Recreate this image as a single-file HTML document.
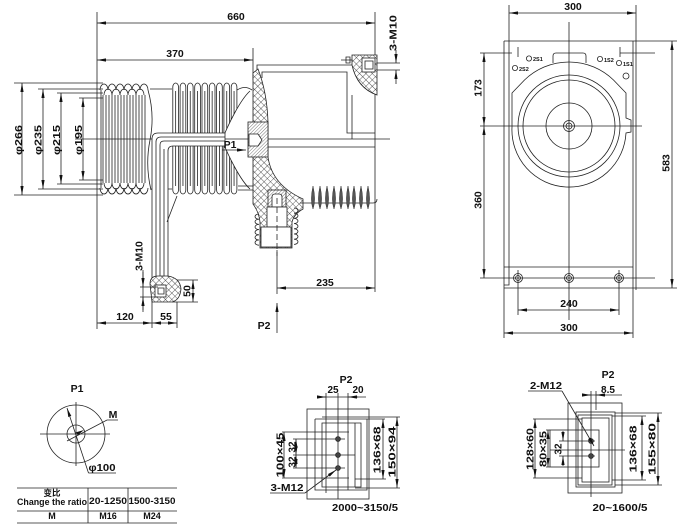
<!DOCTYPE html>
<html><head><meta charset="utf-8"><style>
html,body{margin:0;padding:0;background:#fff}
svg{display:block}
text{font-family:"Liberation Sans","Noto Sans CJK SC",sans-serif;font-weight:bold;fill:#111;stroke:none}
</style></head><body>
<svg width="688" height="531" viewBox="0 0 688 531" xmlns="http://www.w3.org/2000/svg" xmlns:xlink="http://www.w3.org/1999/xlink">
<defs>
<marker id="m" markerUnits="userSpaceOnUse" markerWidth="9" markerHeight="4" refX="9" refY="2" orient="auto-start-reverse" viewBox="0 0 9 4"><path d="M0 0.4L9 2L0 3.6Z" fill="#111" stroke="none"/></marker>
<pattern id="xh" width="4.5" height="4.5" patternUnits="userSpaceOnUse" patternTransform="rotate(45)"><rect width="4.5" height="4.5" fill="#fff"/><path d="M0 0V4.5M0 0H4.5" stroke="#222" stroke-width="0.7"/></pattern>
<pattern id="dh" width="2.4" height="2.4" patternUnits="userSpaceOnUse" patternTransform="rotate(45)"><rect width="2.4" height="2.4" fill="#fff"/><path d="M0 0V2.4" stroke="#222" stroke-width="0.6"/></pattern>
<path id="fin" d="M0.8 190V87a2.85 4 0 0 1 5.7 0V190a2.85 4 0 0 1-5.7 0M3.65 91V186"/>
<path id="lens" d="M0 186Q3.2 200 0 209Q-3.2 200 0 186Z"/>
</defs>

<g fill="none" stroke="#222" stroke-width="0.8">
<!-- ===== MAIN SIDE VIEW ===== -->
<path d="M97 12V329M375 12V292M253 48V80"/>
<line x1="97" y1="23" x2="375" y2="23" marker-start="url(#m)" marker-end="url(#m)"/>
<line x1="97" y1="60" x2="253" y2="60" marker-start="url(#m)" marker-end="url(#m)"/>

<!-- diameter dims -->
<path d="M14 83H103M38 89H103M57 93H103M79 98H103M79 180H103M57 184H103M38 189H103M14 195H103"/>
<line x1="22" y1="83" x2="22" y2="195" marker-start="url(#m)" marker-end="url(#m)"/>
<line x1="43" y1="89" x2="43" y2="189" marker-start="url(#m)" marker-end="url(#m)"/>
<line x1="61" y1="93" x2="61" y2="184" marker-start="url(#m)" marker-end="url(#m)"/>
<line x1="83" y1="98" x2="83" y2="180" marker-start="url(#m)" marker-end="url(#m)"/>

<!-- bellows 1 -->
<path d="M103 95V183M106 95V183M109 95V183M112 95V183M115 95V183M118 95V183M121 95V183M124 95V183M127 95V183M130 95V183M133 95V183M136 95V183M139 95V183M142 95V183M145 95V183"/>
<path d="M100 90a4 6 0 0 1 8 0a4 6 0 0 1 8 0a4 6 0 0 1 8 0a4 6 0 0 1 8 0a4 6 0 0 1 8 0a4 6 0 0 1 8 0"/>
<path d="M104 95a4 6 0 0 1 8 0a4 6 0 0 1 8 0a4 6 0 0 1 8 0a4 6 0 0 1 8 0a4 6 0 0 1 8 0"/>
<path d="M100 188a4 6 0 0 0 8 0a4 6 0 0 0 8 0a4 6 0 0 0 8 0a4 6 0 0 0 8 0a4 6 0 0 0 8 0a4 6 0 0 0 8 0"/>
<path d="M104 183a4 6 0 0 0 8 0a4 6 0 0 0 8 0a4 6 0 0 0 8 0a4 6 0 0 0 8 0a4 6 0 0 0 8 0"/>
<path d="M101 90V188M148 90Q155 115 150 140Q145 165 151 190"/>
<path d="M150 89H172M151 189H172"/>
<path d="M75 139H152"/>

<!-- bellows 2 -->
<use xlink:href="#fin" x="172"/><use xlink:href="#fin" x="179.3"/><use xlink:href="#fin" x="186.6"/>
<use xlink:href="#fin" x="193.9"/><use xlink:href="#fin" x="201.2"/><use xlink:href="#fin" x="208.5"/>
<use xlink:href="#fin" x="215.8"/><use xlink:href="#fin" x="223.1"/><use xlink:href="#fin" x="230.4"/>

<!-- bell opening -->
<path d="M255 80L250 91C240 100 228 125 222 140C228 155 240 180 250 189L255 200Z" fill="#fff" stroke="none"/>
<path d="M250 91C240 100 228 125 222 140C228 155 240 180 250 189"/>
<path d="M237 90Q245 85 252 90M238 186H253M238 190H253"/>

<!-- bus bar -->
<path d="M225 133H158Q152 133 152 139V282H168V151Q168 146 173 146H225Z" fill="#fff"/>
<path d="M225 137H161Q156 137 156 142V282M225 141H164Q160 141 160 145V282M164 282V149"/>
<path d="M177 196L167 222"/>
<path d="M225 139H248"/>

<!-- P1 arrow -->
<line x1="222" y1="150" x2="246" y2="150" marker-end="url(#m)"/>

<!-- top box lines -->
<path d="M257 78V65H352M262 78V72H347V133H375M352 95V139"/>

<!-- insulator body -->
<path d="M253 73L258 69Q267 92 268 122L268 157Q272 185 303 199L303 209Q294 214 292 222L292 248L260 248L260 222Q259 212 253 204Z" fill="url(#xh)"/>
<rect x="248" y="122" width="20" height="35" fill="url(#dh)"/>
<path d="M249 134H258L262 140L258 146H249Z" fill="#fff"/>
<path d="M268 139H390M268 147H375"/>

<!-- lower bushing -->
<rect x="268" y="190" width="18" height="17" fill="url(#dh)"/>
<path d="M272 207V197Q272 194 275 194H279Q282 194 282 197V207Z" fill="#fff"/>
<rect x="267" y="207" width="20" height="20" fill="#fff"/>
<rect x="261" y="227" width="30" height="20" fill="#fff"/>
<path d="M277 198V256" stroke-dasharray="6 3"/>
<path d="M259 214a4 2.6 0 0 0 0 5.2a4 2.6 0 0 0 0 5.2a4 2.6 0 0 0 0 5.2a4 2.6 0 0 0 0 5.2a4 2.6 0 0 0 0 5.2a4 2.6 0 0 0 0 5.2"/>
<path d="M294 208a4 2.6 0 0 1 0 5.2a4 2.6 0 0 1 0 5.2a4 2.6 0 0 1 0 5.2a4 2.6 0 0 1 0 5.2a4 2.6 0 0 1 0 5.2a4 2.6 0 0 1 0 5.2a4 2.6 0 0 1 0 5.2"/>

<!-- right fins -->
<path d="M300 203H373Q377 203 377 199"/>
<g fill="#555" stroke="#333" stroke-width="0.5">
<use xlink:href="#lens" x="313"/><use xlink:href="#lens" x="320"/><use xlink:href="#lens" x="327"/>
<use xlink:href="#lens" x="334"/><use xlink:href="#lens" x="341"/><use xlink:href="#lens" x="348"/>
<use xlink:href="#lens" x="354"/><use xlink:href="#lens" x="361"/><use xlink:href="#lens" x="368"/>
</g>

<!-- top-right bracket -->
<path d="M352 55H377V95Q357 88 352 65Z" fill="url(#xh)"/>
<rect x="362" y="58" width="13" height="14" fill="#fff"/>
<rect x="365" y="61" width="8" height="8"/>
<path d="M341 60H352M346 57V63H350V57Z"/>
<path d="M377 63H400M377 70H400"/>
<line x1="396" y1="50" x2="396" y2="63" marker-end="url(#m)"/>
<line x1="396" y1="84" x2="396" y2="70" marker-end="url(#m)"/>

<!-- lower terminal -->
<path d="M150 284Q150 276 158 276L168 276Q180 278 181 289Q180 300 172 302L152 302Z" fill="url(#xh)"/>
<rect x="155" y="285" width="11" height="12" fill="#fff"/>
<path d="M158 288H164V294H158Z"/>
<path d="M140 287H158M140 297H158M143 270V310"/>
<line x1="143" y1="272" x2="143" y2="287" marker-end="url(#m)"/>
<line x1="143" y1="312" x2="143" y2="297" marker-end="url(#m)"/>
<path d="M177 280H198M172 302H198"/>
<line x1="193" y1="280" x2="193" y2="302" marker-start="url(#m)" marker-end="url(#m)"/>
<path d="M152 300V328M177 302V328"/>
<line x1="97" y1="323" x2="152" y2="323" marker-start="url(#m)" marker-end="url(#m)"/>
<line x1="152" y1="323" x2="177" y2="323" marker-start="url(#m)" marker-end="url(#m)"/>

<!-- 235 / P2 -->
<path d="M277 250V294"/>
<line x1="277" y1="288" x2="375" y2="288" marker-start="url(#m)" marker-end="url(#m)"/>
<line x1="277" y1="333" x2="277" y2="303" marker-end="url(#m)"/>

<!-- ===== RIGHT FRONT VIEW ===== -->
<path d="M509 5V41M636 5V290"/>
<line x1="509" y1="13" x2="636" y2="13" marker-start="url(#m)" marker-end="url(#m)"/>
<path d="M504 41H677M504 288H677M504 41V338M509 41V267M633 41V338M504 267H633M509 267V285H504"/>
<line x1="672" y1="41" x2="672" y2="288" marker-start="url(#m)" marker-end="url(#m)"/>
<path d="M569 22V320M480 126H642"/>
<path d="M480 53H512M620 53H655M518 47V57M620 47V57M480 278H655"/>
<line x1="484" y1="53" x2="484" y2="126" marker-start="url(#m)" marker-end="url(#m)"/>
<line x1="484" y1="126" x2="484" y2="278" marker-start="url(#m)" marker-end="url(#m)"/>
<path d="M512 127L512 93L524.5 80A64 64 0 0 1 613.5 80L626 93L626 118L631 120L631 132L626 133A57 57 0 0 1 512 127Z"/>
<circle cx="569" cy="126" r="51"/>
<circle cx="569" cy="126" r="46"/>
<circle cx="569" cy="126" r="23"/>
<circle cx="569" cy="126" r="5.5"/>
<circle cx="569" cy="126" r="3"/>
<path d="M553 63V56Q553 53 556 53H583Q586 53 586 56V63"/>
<circle cx="529" cy="58.5" r="2.6"/>
<circle cx="515" cy="68" r="2.6"/>
<circle cx="600" cy="59" r="2.6"/>
<circle cx="619" cy="63" r="2.6"/>
<circle cx="626" cy="76" r="3"/>
<circle cx="518" cy="278" r="4.5"/><circle cx="518" cy="278" r="2.5"/>
<circle cx="569" cy="278" r="4.5"/><circle cx="569" cy="278" r="2.5"/>
<circle cx="619" cy="278" r="4.5"/><circle cx="619" cy="278" r="2.5"/>
<path d="M518 270V315M619 270V315"/>
<line x1="518" y1="310" x2="619" y2="310" marker-start="url(#m)" marker-end="url(#m)"/>
<line x1="504" y1="333" x2="633" y2="333" marker-start="url(#m)" marker-end="url(#m)"/>

<!-- ===== P1 DETAIL ===== -->
<circle cx="76" cy="434" r="29"/>
<circle cx="76" cy="434" r="9"/>
<path d="M40 434H110M76 402V466"/>
<path d="M88.5 473H116"/>
<line x1="88.5" y1="473" x2="67" y2="408" marker-end="url(#m)"/>
<path d="M67 441L107 420H118"/>
<path d="M84 430L77.7 435.2L76.1 432.2Z" fill="#111" stroke="none"/>
<path d="M17 488H177M17 511H177M17 523H177M88 488V523M128 488V523"/>

<!-- ===== P2 middle ===== -->
<path d="M318 397H366"/>
<line x1="318" y1="397" x2="326" y2="397" marker-end="url(#m)"/>
<line x1="358" y1="397" x2="348" y2="397" marker-end="url(#m)"/>
<path d="M326 393V493M338 393V499M348 393V490"/>
<rect x="307" y="409" width="62" height="90"/>
<path d="M315 419H385M315 419V490H367V419M322 423H361V487H322ZM355 423V487M361 423V487"/>
<path d="M322 417H400M355 488H400M355 479H386"/>
<path d="M282 432H349M282 478H349M293 439H345M293 468H345M293 455H355"/>
<line x1="284" y1="432" x2="284" y2="478" marker-start="url(#m)" marker-end="url(#m)"/>
<line x1="296" y1="439" x2="296" y2="455" marker-start="url(#m)" marker-end="url(#m)"/>
<line x1="296" y1="455" x2="296" y2="468" marker-start="url(#m)" marker-end="url(#m)"/>
<line x1="383" y1="419" x2="383" y2="479" marker-start="url(#m)" marker-end="url(#m)"/>
<line x1="397" y1="417" x2="397" y2="488" marker-start="url(#m)" marker-end="url(#m)"/>
<circle cx="338" cy="439" r="2.4" fill="#444"/>
<circle cx="338" cy="455" r="2.4" fill="#444"/>
<circle cx="338" cy="468" r="2.4" fill="#444"/>
<path d="M270 493H305"/>
<line x1="305" y1="493" x2="336" y2="470" marker-end="url(#m)"/>

<!-- ===== P2 right ===== -->
<path d="M586 395H622"/>
<line x1="583" y1="395" x2="591" y2="395" marker-end="url(#m)"/>
<line x1="605" y1="395" x2="596" y2="395" marker-end="url(#m)"/>
<path d="M591 391V497M596 391V410"/>
<rect x="568" y="403" width="54" height="90"/>
<rect x="576" y="412" width="39" height="75"/>
<rect x="578" y="415" width="34" height="70"/>
<rect x="582" y="418" width="27" height="64"/>
<rect x="550" y="430" width="49" height="37"/>
<path d="M533 419H582M533 478H582M546 430H550M546 467H550M559 441H595M559 456H595M550 450H625"/>
<path d="M615 413H662M612 416H646M612 480H646M615 485H662"/>
<line x1="535" y1="419" x2="535" y2="478" marker-start="url(#m)" marker-end="url(#m)"/>
<line x1="548" y1="430" x2="548" y2="467" marker-start="url(#m)" marker-end="url(#m)"/>
<line x1="563" y1="431" x2="563" y2="441" marker-end="url(#m)"/>
<line x1="563" y1="466" x2="563" y2="456" marker-end="url(#m)"/>
<line x1="642" y1="416" x2="642" y2="480" marker-start="url(#m)" marker-end="url(#m)"/>
<line x1="658" y1="413" x2="658" y2="485" marker-start="url(#m)" marker-end="url(#m)"/>
<circle cx="591" cy="441" r="2.4" fill="#444"/>
<circle cx="591" cy="456" r="2.4" fill="#444"/>
<path d="M528 391H562"/>
<line x1="562" y1="391" x2="594" y2="446" marker-end="url(#m)"/>
</g>

<!-- ===== TEXT ===== -->
<g font-size="10.5" text-anchor="middle">
<text x="236" y="20">660</text>
<text x="175" y="57">370</text>
<text transform="translate(18.5,140) rotate(-90)" dy="3.6" textLength="30" lengthAdjust="spacingAndGlyphs">φ266</text>
<text transform="translate(38,140) rotate(-90)" dy="3.6" textLength="30" lengthAdjust="spacingAndGlyphs">φ235</text>
<text transform="translate(56.5,140) rotate(-90)" dy="3.6" textLength="30" lengthAdjust="spacingAndGlyphs">φ215</text>
<text transform="translate(78.5,140) rotate(-90)" dy="3.6" textLength="30" lengthAdjust="spacingAndGlyphs">φ195</text>
<text x="230" y="148">P1</text>
<text transform="translate(393,33) rotate(-90)" dy="3.6" textLength="36" lengthAdjust="spacingAndGlyphs">3-M10</text>
<text transform="translate(139,256) rotate(-90)" dy="3.6">3-M10</text>
<text transform="translate(187,291) rotate(-90)" dy="3.6">50</text>
<text x="125" y="320">120</text>
<text x="166" y="320">55</text>
<text x="325" y="286">235</text>
<text x="264" y="329">P2</text>
<text x="573" y="10">300</text>
<text transform="translate(478,88) rotate(-90)" dy="3.6">173</text>
<text transform="translate(478,200) rotate(-90)" dy="3.6">360</text>
<text transform="translate(666,163) rotate(-90)" dy="3.6">583</text>
<text x="569" y="307">240</text>
<text x="569" y="331">300</text>

<text x="77" y="392">P1</text>
<text x="113" y="418">M</text>
<text x="102" y="471" textLength="27" lengthAdjust="spacingAndGlyphs">φ100</text>

<text x="346" y="383">P2</text>
<text x="333" y="393" font-size="10">25</text>
<text x="358" y="393" font-size="10">20</text>
<text transform="translate(280,455) rotate(-90)" dy="3.4" font-size="10" textLength="45" lengthAdjust="spacingAndGlyphs">100×45</text>
<text transform="translate(292,447) rotate(-90)" dy="3.4" font-size="10">32</text>
<text transform="translate(292,462) rotate(-90)" dy="3.4" font-size="10">32</text>
<text transform="translate(377,450) rotate(-90)" dy="3.4" font-size="10" textLength="47" lengthAdjust="spacingAndGlyphs">136×68</text>
<text transform="translate(392,452) rotate(-90)" dy="3.4" font-size="10" textLength="51" lengthAdjust="spacingAndGlyphs">150×94</text>
<text x="287" y="491" font-size="10" textLength="33" lengthAdjust="spacingAndGlyphs">3-M12</text>
<text x="365" y="511" font-size="10" textLength="66" lengthAdjust="spacingAndGlyphs">2000~3150/5</text>

<text x="608" y="378">P2</text>
<text x="546" y="389" font-size="10" textLength="32" lengthAdjust="spacingAndGlyphs">2-M12</text>
<text x="608" y="393" font-size="10">8.5</text>
<text transform="translate(530,449) rotate(-90)" dy="3.4" font-size="10" textLength="42" lengthAdjust="spacingAndGlyphs">128×60</text>
<text transform="translate(543,449) rotate(-90)" dy="3.4" font-size="10" textLength="36" lengthAdjust="spacingAndGlyphs">80×35</text>
<text transform="translate(558,449) rotate(-90)" dy="3.4" font-size="10">32</text>
<text transform="translate(633,449) rotate(-90)" dy="3.4" font-size="10" textLength="47" lengthAdjust="spacingAndGlyphs">136×68</text>
<text transform="translate(652,449) rotate(-90)" dy="3.4" font-size="10" textLength="52" lengthAdjust="spacingAndGlyphs">155×80</text>
<text x="620" y="511" font-size="10" textLength="55" lengthAdjust="spacingAndGlyphs">20~1600/5</text>

<text x="52" y="496" font-size="8.5">变比</text>
<text x="52" y="505" font-size="9" textLength="70" lengthAdjust="spacingAndGlyphs">Change the ratio</text>
<text x="108" y="504" font-size="9" textLength="38" lengthAdjust="spacingAndGlyphs">20-1250</text>
<text x="152" y="504" font-size="9" textLength="47" lengthAdjust="spacingAndGlyphs">1500-3150</text>
<text x="52" y="519" font-size="9">M</text>
<text x="108" y="519" font-size="9">M16</text>
<text x="152" y="519" font-size="9">M24</text>
</g>
<g font-size="5.5" text-anchor="start">
<text x="533" y="61">2S1</text>
<text x="519" y="71">2S2</text>
<text x="604" y="62">1S2</text>
<text x="623" y="66">1S1</text>
</g>
</svg>
</body></html>
